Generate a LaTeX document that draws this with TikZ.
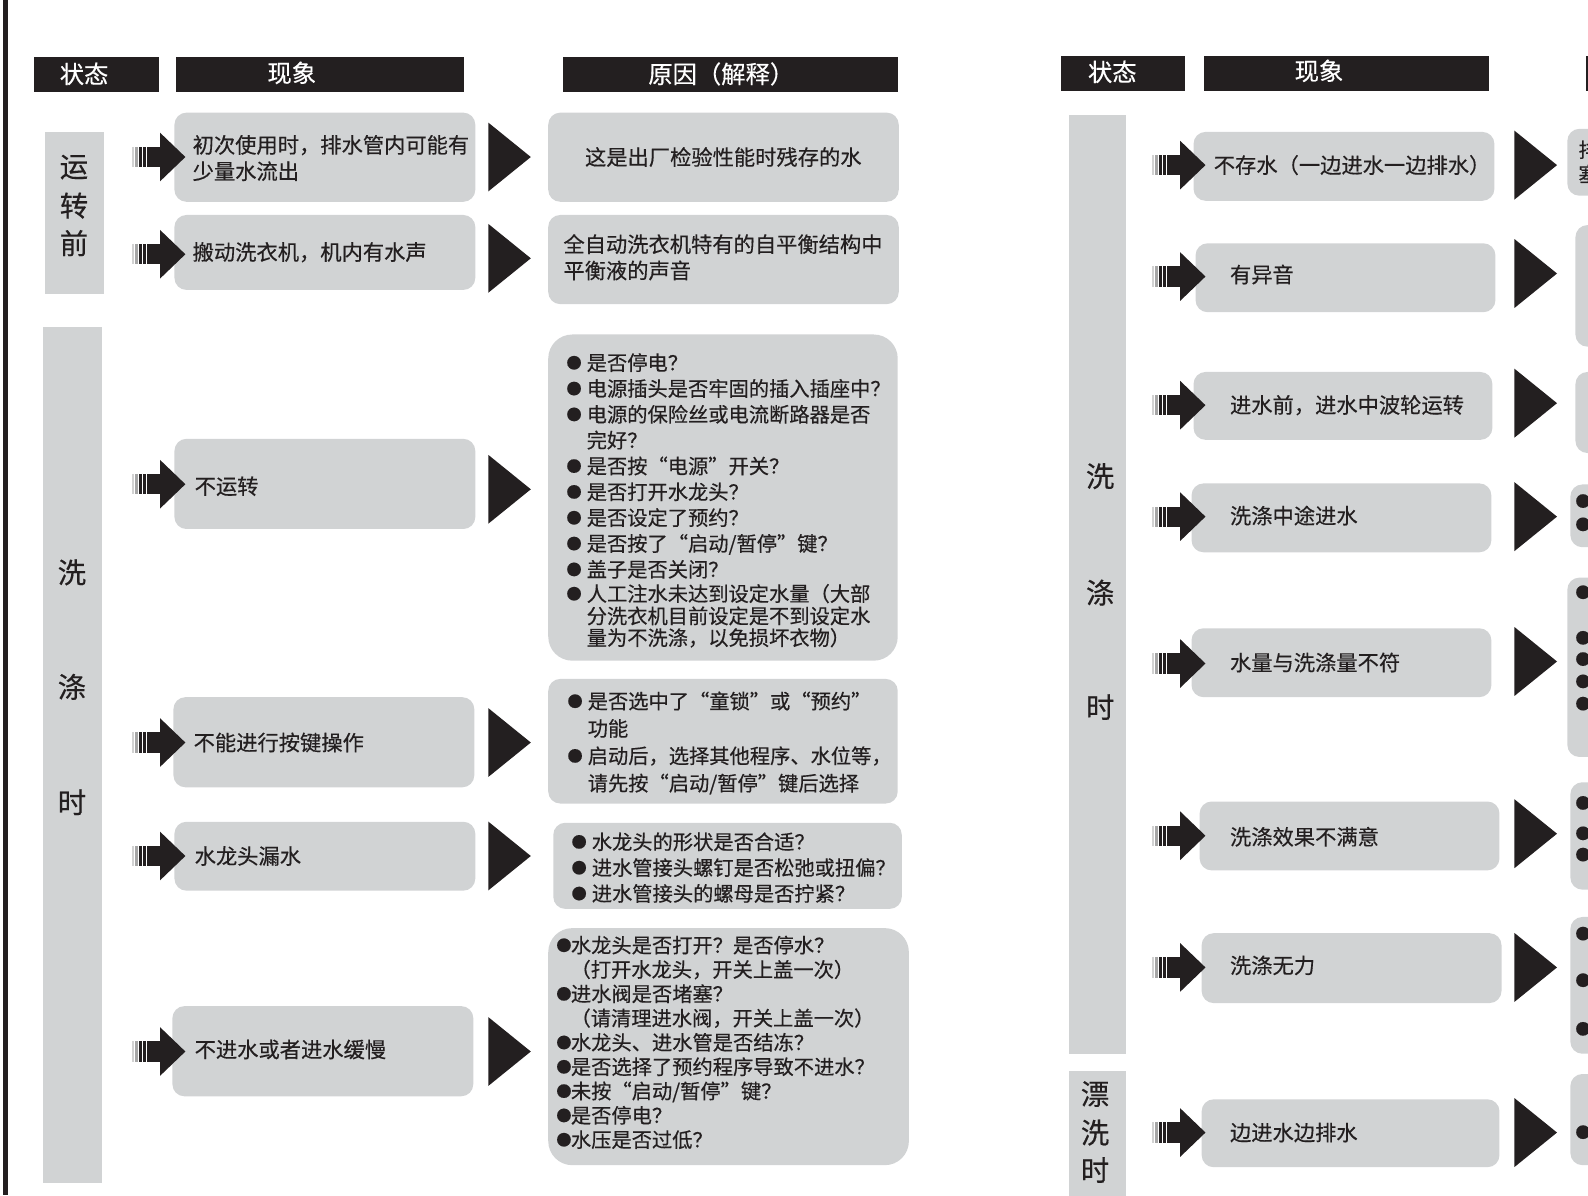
\documentclass[tikz,border=0pt]{standalone}
\usepackage{graphicx}
\usepackage{fontspec}
\newfontfamily\cjk[FakeBold=0.4]{Noto Sans CJK SC}
\definecolor{boxgray}{HTML}{D1D3D4}
\definecolor{ink}{HTML}{231F20}
\newcommand\bul[1][1em]{\makebox[#1][l]{\raisebox{0.09em}{\scalebox{0.75}{●}}}}
\newcommand\sarrow[2]{%
  \fill[gray!35] (#1,#2-10) rectangle (#1+2.5,#2+10);
  \fill[gray!70] (#1+3.5,#2-10) rectangle (#1+6,#2+10);
  \fill[ink] (#1+7,#2-10) rectangle (#1+10,#2+10);
  \fill[ink] (#1+11,#2-10) rectangle (#1+14,#2+10);
  \fill[ink] (#1+15,#2-10) rectangle (#1+29,#2+10);
  \fill[ink] (#1+28,#2-24) -- (#1+53,#2) -- (#1+28,#2+24) -- cycle;}
\newcommand\btri[2]{\fill[ink] (#1,#2-34) -- (#1+42,#2) -- (#1,#2+34) -- cycle;}
\begin{document}
\begin{tikzpicture}[x=1pt,y=-1pt,scale=1.013,transform shape,
  hdr/.style={fill=ink,inner sep=0,anchor=north west},
  htxt/.style={text=white,font=\cjk\fontsize{24}{28}\selectfont,inner sep=0},
  pbox/.style={fill=boxgray,rounded corners=12pt,inner sep=0,anchor=north west},
  cbox/.style={fill=boxgray,rounded corners=#1,inner sep=0,anchor=north west},
  cbox/.default=12pt,
  ptxt/.style={font=\cjk\fontsize{21}{26}\selectfont,text=ink,inner sep=0,anchor=west,align=left},
  ltxt/.style={font=\cjk\fontsize{20}{25.5}\selectfont,text=ink,inner sep=0,anchor=north west,align=left},
  stxt/.style={font=\cjk\fontsize{28}{30}\selectfont,text=ink,inner sep=0},
]
\useasboundingbox (0,0) rectangle (1567.6,1179.7);
\clip (0,0) rectangle (1567.6,1179.7);

% left border line
\fill[ink] (3,0) rectangle (8,1180);

% ---------------- headers ----------------
\node[hdr,minimum width=124,minimum height=35] (hl1) at (33,56) {};
\node[hdr,minimum width=284,minimum height=35] (hl2) at (174,56) {};
\node[hdr,minimum width=330,minimum height=35] (hl3) at (556,56) {};
\node[htxt] (hl1t) at (83,73) {状态};
\node[htxt] (hl2t) at (288,72) {现象};
\node[htxt] (hl3t) at (712,73) {原因（解释）};

\node[hdr,minimum width=123,minimum height=35] (hr1) at (1047,55) {};
\node[hdr,minimum width=282,minimum height=35] (hr2) at (1188,55) {};
\node[hdr,minimum width=40,minimum height=35] (hr3) at (1565,55) {};
\node[htxt] (hr1t) at (1098,71) {状态};
\node[htxt] (hr2t) at (1302,70) {现象};

% ---------------- left state column ----------------
\node[fill=boxgray,inner sep=0,anchor=north west,minimum width=58,minimum height=160] (sl1) at (44,130) {};
\node[stxt] (sl1a) at (73,165) {运};
\node[stxt] (sl1b) at (73,203) {转};
\node[stxt] (sl1c) at (73,240) {前};
\node[fill=boxgray,inner sep=0,anchor=north west,minimum width=58,minimum height=845] (sl2) at (42,323) {};
\node[stxt] (sl2a) at (71,565) {洗};
\node[stxt] (sl2b) at (71,678) {涤};
\node[stxt] (sl2c) at (71,792) {时};

% ---------------- left phenomena ----------------
\node[pbox,minimum width=297,minimum height=88] (p1) at (172,111) {};
\node[pbox,minimum width=297,minimum height=74] (p2) at (172,212) {};
\node[pbox,minimum width=297,minimum height=89] (p3) at (172,433) {};
\node[pbox,minimum width=297,minimum height=89] (p4) at (171,688) {};
\node[pbox,minimum width=297,minimum height=68] (p5) at (172,811) {};
\node[pbox,minimum width=297,minimum height=89] (p6) at (170,993) {};
\node[ptxt] (p1t) at (190,156) {初次使用时，排水管内可能有\\少量水流出};
\node[ptxt] (p2t) at (190,249) {搬动洗衣机，机内有水声};
\node[ptxt] (p3t) at (192,480) {不运转};
\node[ptxt] (p4t) at (191,733) {不能进行按键操作};
\node[ptxt] (p5t) at (192,845) {水龙头漏水};
\node[ptxt] (p6t) at (192,1036) {不进水或者进水缓慢};

\sarrow{130}{155}
\sarrow{130}{251}
\sarrow{130}{478}
\sarrow{130}{733}
\sarrow{130}{845}
\sarrow{130}{1038}

\btri{482}{155}
\btri{482}{255}
\btri{482}{483}
\btri{482}{733}
\btri{482}{845}
\btri{482}{1038}

% ---------------- left causes ----------------
\node[cbox,minimum width=346,minimum height=88] (c1) at (541,111) {};
\node[cbox,minimum width=346,minimum height=88] (c2) at (541,212) {};
\node[cbox=24pt,minimum width=345,minimum height=322] (c3) at (541,330) {};
\node[cbox,minimum width=345,minimum height=123] (c4) at (541,670) {};
\node[cbox,minimum width=344,minimum height=85] (c5) at (546,812) {};
\node[cbox=24pt,minimum width=356,minimum height=234] (c6) at (541,916) {};

\node[ptxt,anchor=center] (c1t) at (714,155) {这是出厂检验性能时残存的水};
\node[ptxt] (c2t) at (556,254) {全自动洗衣机特有的自平衡结构中\\平衡液的声音};
\node[ltxt] (c3t) at (559,348.5) {\bul 是否停电？\\\bul 电源插头是否牢固的插入插座中？\\\bul 电源的保险丝或电流断路器是否\\\hspace*{1em}完好？\\\bul 是否按“电源”开关？\\\bul 是否打开水龙头？\\\bul 是否设定了预约？\\\bul 是否按了“启动/暂停”键？\\\bul 盖子是否关闭？\\[-1.5pt]\bul 人工注水未达到设定水量（大部\\[-3.5pt]\hspace*{1em}分洗衣机目前设定是不到设定水\\[-4pt]\hspace*{1em}量为不洗涤，以免损坏衣物）};
\node[ltxt,font=\cjk\fontsize{20}{27}\selectfont] (c4t) at (560,682.5) {\bul 是否选中了“童锁”或“预约”\\\hspace*{1em}功能\\\bul 启动后，选择其他程序、水位等，\\\hspace*{1em}请先按“启动/暂停”键后选择};
\node[ltxt] (c5t) at (564,821.5) {\bul 水龙头的形状是否合适？\\\bul 进水管接头螺钉是否松弛或扭偏？\\\bul 进水管接头的螺母是否拧紧？};
\node[ltxt,font=\cjk\fontsize{20}{24}\selectfont] (c6t) at (549,923.5) {\bul[0.72em]水龙头是否打开？是否停水？\\\hspace*{0.7em}（打开水龙头，开关上盖一次）\\\bul[0.72em]进水阀是否堵塞？\\\hspace*{0.7em}（请清理进水阀，开关上盖一次）\\\bul[0.72em]水龙头、进水管是否结冻？\\\bul[0.72em]是否选择了预约程序导致不进水？\\\bul[0.72em]未按“启动/暂停”键？\\\bul[0.72em]是否停电？\\\bul[0.72em]水压是否过低？};

% ---------------- right state column ----------------
\node[fill=boxgray,inner sep=0,anchor=north west,minimum width=56,minimum height=927] (sr1) at (1055,113) {};
\node[stxt] (sr1a) at (1086,470) {洗};
\node[stxt] (sr1b) at (1086,585) {涤};
\node[stxt] (sr1c) at (1086,698) {时};
\node[fill=boxgray,inner sep=0,anchor=north west,minimum width=56,minimum height=123] (sr2) at (1055,1057) {};
\node[stxt] (sr2a) at (1081,1080) {漂};
\node[stxt] (sr2b) at (1081,1118) {洗};
\node[stxt] (sr2c) at (1081,1155) {时};

% ---------------- right phenomena ----------------
\node[pbox,minimum width=297,minimum height=68] (q1) at (1178,130) {};
\node[pbox,minimum width=296,minimum height=68] (q2) at (1180,240) {};
\node[pbox,minimum width=295,minimum height=67] (q3) at (1178,367) {};
\node[pbox,minimum width=296,minimum height=68] (q4) at (1176,477) {};
\node[pbox,minimum width=296,minimum height=68] (q5) at (1176,620) {};
\node[pbox,minimum width=296,minimum height=68] (q6) at (1184,791) {};
\node[pbox,minimum width=296,minimum height=69] (q7) at (1186,921) {};
\node[pbox,minimum width=294,minimum height=67] (q8) at (1186,1085) {};
\node[ptxt] (q1t) at (1198,163) {不存水（一边进水一边排水）};
\node[ptxt] (q2t) at (1214,271) {有异音};
\node[ptxt] (q3t) at (1214,400) {进水前，进水中波轮运转};
\node[ptxt] (q4t) at (1214,509) {洗涤中途进水};
\node[ptxt] (q5t) at (1214,654) {水量与洗涤量不符};
\node[ptxt] (q6t) at (1214,826) {洗涤效果不满意};
\node[ptxt] (q7t) at (1214,953) {洗涤无力};
\node[ptxt] (q8t) at (1214,1118) {边进水边排水};

\sarrow{1137}{163}
\sarrow{1137}{273}
\sarrow{1137}{400}
\sarrow{1137}{510}
\sarrow{1137}{655}
\sarrow{1137}{825}
\sarrow{1137}{955}
\sarrow{1137}{1118}

\btri{1495}{163}
\btri{1495}{270}
\btri{1495}{398}
\btri{1495}{510}
\btri{1495}{653}
\btri{1495}{823}
\btri{1495}{955}
\btri{1495}{1118}

% ---------------- right causes (cut at page edge) ----------------
\node[cbox,minimum width=80,minimum height=66] (r1) at (1547,127) {};
\node[cbox,minimum width=80,minimum height=120] (r2) at (1555,222) {};
\node[cbox,minimum width=80,minimum height=80] (r3) at (1555,367) {};
\node[cbox,minimum width=80,minimum height=62] (r4) at (1550,478) {};
\node[cbox,minimum width=80,minimum height=177] (r5) at (1547,570) {};
\node[cbox,minimum width=80,minimum height=106] (r6) at (1550,772) {};
\node[cbox,minimum width=80,minimum height=135] (r7) at (1550,905) {};
\node[cbox,minimum width=80,minimum height=90] (r8) at (1550,1060) {};
\node[ltxt,font=\cjk\fontsize{20}{24}\selectfont] (r1t) at (1558,138.5) {排\\塞};
\foreach \i/\yy in {a/495,b/518,c/585,d/630,e/651,f/673,g/695,h/793,i/823,j/844,k/922,l/968,m/1016,n/1118}
  \node[ptxt,font=\cjk\fontsize{20}{24}\selectfont] (rb\i) at (1555,\yy) {\bul};
\end{tikzpicture}
\end{document}
